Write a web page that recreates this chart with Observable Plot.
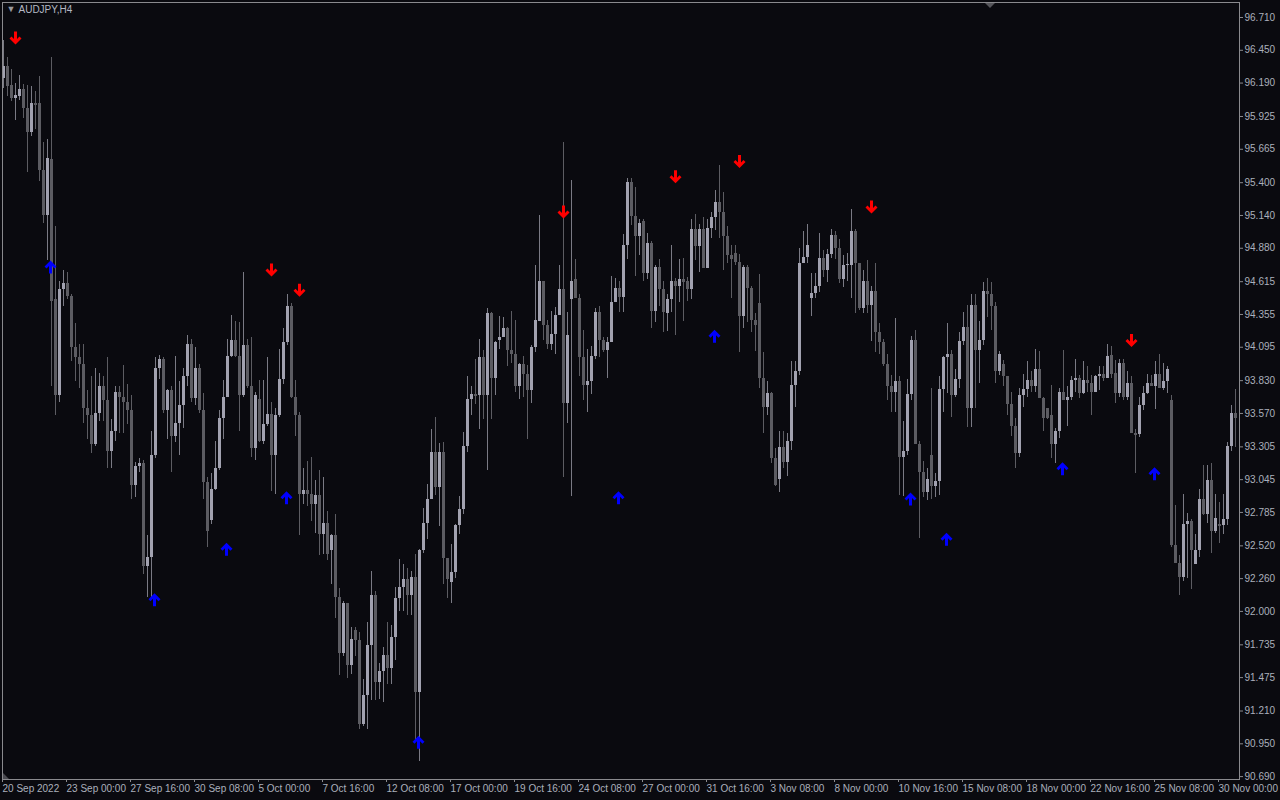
<!DOCTYPE html>
<html><head><meta charset="utf-8">
<script src="https://cdn.jsdelivr.net/npm/d3@7"></script>
<script src="https://cdn.jsdelivr.net/npm/@observablehq/plot@0.6"></script>
<style>
html,body{margin:0;padding:0;background:#0a0a0f;overflow:hidden;}
#chart{position:relative;width:1280px;height:800px;}
#chart svg{display:block;}
.shift{position:absolute;left:985px;top:3px;width:0;height:0;border-left:5px solid transparent;border-right:5px solid transparent;border-top:5px solid #55555a;}
.scroll{position:absolute;left:3px;top:773px;width:0;height:0;border-bottom:6px solid #4a4a50;border-right:6px solid transparent;}
</style></head><body><div id="chart"><div class="shift"></div><div class="scroll"></div></div>
<script>
const title = "AUDJPY,H4";

const open = [
96.23,96.32,96.17,96.07,96.08,96.14,95.99,95.80,96.03,96.03,
95.50,95.14,95.58,94.47,93.71,94.55,94.60,94.50,94.09,94.01,
93.96,93.61,93.55,93.32,93.57,93.78,93.67,93.27,93.43,93.74,
93.70,93.66,93.59,93.00,93.15,93.17,92.36,92.43,93.24,93.93,
94.00,93.59,93.75,93.39,93.49,93.63,93.86,94.12,93.69,93.93,
93.59,93.02,92.72,92.97,93.13,93.53,93.70,94.02,94.15,94.02,
93.71,94.11,93.78,93.29,93.68,93.35,93.48,93.56,93.24,93.55,
93.84,94.13,94.42,93.70,93.55,92.93,92.96,92.93,92.85,92.92,
92.61,92.70,92.48,92.60,92.11,91.67,92.06,91.57,91.85,91.77,
91.10,91.33,91.73,92.13,91.44,91.52,91.65,91.55,91.79,92.10,
92.19,92.25,92.13,92.27,91.36,92.48,92.70,92.89,93.26,92.98,
93.26,92.42,92.23,92.31,92.68,92.81,93.31,93.68,93.72,93.71,
94.01,93.71,94.36,93.85,94.15,94.17,94.24,94.07,94.04,93.78,
93.96,93.88,93.75,94.09,94.30,94.62,94.27,94.12,94.20,94.35,
94.55,93.65,94.47,94.63,94.48,94.01,93.79,93.82,94.02,94.37,
94.15,94.07,94.13,94.45,94.56,94.49,94.90,95.40,95.13,94.97,
95.09,94.68,94.92,94.38,94.73,94.55,94.36,94.47,94.62,94.58,
94.63,94.62,94.55,95.03,94.89,95.03,94.72,95.04,95.12,95.24,
95.16,94.97,94.82,94.84,94.77,94.34,94.73,94.56,94.31,94.44,
93.85,93.62,93.73,93.21,93.05,93.30,93.18,93.35,93.79,93.90,
94.76,94.81,94.48,94.52,94.58,94.80,94.70,94.83,94.98,94.88,
94.63,94.74,94.74,95.01,94.76,94.40,94.62,94.43,94.54,94.21,
94.13,93.96,93.78,93.74,93.82,93.22,93.27,93.72,94.15,93.32,
93.10,92.94,93.24,92.99,93.03,93.76,94.01,94.04,93.71,93.84,
94.14,94.25,93.61,94.43,94.07,94.15,94.54,94.51,94.42,93.90,
93.96,93.86,93.64,93.47,93.25,93.71,93.76,93.83,93.78,93.92,
93.69,93.61,93.55,93.32,93.43,93.74,93.67,93.70,93.83,93.85,
93.73,93.83,93.81,93.74,93.86,93.88,93.85,94.03,93.89,93.73,
93.97,93.70,93.81,93.41,93.40,93.63,93.73,93.81,93.78,93.88,
93.77,93.82,93.67,92.52,92.38,92.27,92.69,92.71,92.37,92.48,
92.89,92.77,93.04,92.63,92.69,92.68,92.73,93.31,93.57
];
const high = [
96.53,96.39,96.30,96.19,96.25,96.18,96.17,96.16,96.12,96.24,
95.72,95.74,96.39,95.05,94.62,94.70,94.69,94.51,94.28,94.12,
94.12,93.75,93.86,93.93,93.89,93.86,94.01,93.52,93.78,93.78,
93.95,93.80,93.71,93.18,93.21,93.20,92.60,93.43,94.01,94.03,
94.01,93.76,93.78,94.02,93.82,93.93,94.19,94.16,94.09,93.96,
93.73,93.06,93.09,93.35,93.59,93.83,94.16,94.35,94.30,94.29,
94.69,94.16,94.17,93.74,93.83,93.83,94.01,93.66,93.61,94.08,
94.24,94.51,94.44,93.83,93.58,93.13,93.19,93.22,93.04,93.12,
93.06,92.79,92.61,92.77,92.18,92.08,92.06,91.87,91.87,91.83,
91.46,91.91,92.32,92.16,91.59,91.71,91.91,91.89,92.19,92.41,
92.37,92.34,92.32,92.45,92.49,92.82,93.01,93.44,93.54,93.33,
93.34,92.42,92.53,92.69,92.91,93.42,93.86,93.78,94.00,94.16,
94.07,94.40,94.37,94.14,94.34,94.33,94.25,94.38,94.31,93.97,
94.02,93.95,94.11,94.74,95.14,94.62,94.31,94.38,94.41,94.74,
95.72,94.37,95.42,94.79,94.51,94.23,94.08,94.10,94.40,94.42,
94.17,94.17,94.66,94.64,94.62,94.99,95.43,95.43,95.36,95.11,
95.11,95.00,94.93,94.74,94.79,94.62,94.51,94.90,94.64,94.79,
94.80,94.65,95.11,95.15,95.07,95.12,95.11,95.16,95.34,95.54,
95.32,95.05,94.90,94.90,94.83,94.74,94.74,94.58,94.36,94.67,
94.05,93.82,93.74,93.29,93.43,93.43,93.41,93.98,93.98,94.88,
95.01,95.07,94.68,94.68,95.00,94.86,94.87,95.03,95.01,94.95,
94.82,94.84,95.19,95.03,94.76,94.70,94.78,94.58,94.76,94.28,
94.16,94.04,93.87,94.32,93.86,93.51,93.84,94.18,94.23,93.35,
93.19,93.13,93.77,93.09,93.86,94.02,94.28,94.07,93.92,94.21,
94.37,94.43,94.51,94.51,94.30,94.61,94.64,94.61,94.45,94.06,
93.99,93.86,93.74,93.53,93.77,93.88,93.98,93.90,94.08,94.06,
93.70,93.61,93.79,93.45,93.77,94.07,93.78,93.86,94.00,93.87,
93.98,93.94,93.87,93.87,93.94,93.94,94.12,94.10,93.99,94.00,
94.00,93.90,93.86,93.44,93.70,93.78,93.88,93.87,93.98,94.04,
93.97,93.94,93.71,92.84,92.44,92.93,92.78,92.73,92.61,92.97,
93.16,93.16,93.17,92.93,92.86,92.93,93.34,93.63,93.76
];
const low = [
96.15,96.08,96.04,95.89,96.05,95.91,95.48,95.77,95.82,95.41,
95.08,94.78,93.78,93.55,93.66,94.42,94.47,93.98,93.82,93.77,
93.49,93.36,93.25,93.31,93.51,93.51,93.13,93.13,93.35,93.41,
93.41,93.48,92.89,92.90,93.10,92.29,92.11,92.11,93.21,93.84,
93.57,93.36,93.10,93.34,93.24,93.45,93.78,93.66,93.63,93.57,
92.89,92.51,92.69,92.96,93.12,93.36,93.70,94.01,94.01,93.43,
93.70,93.77,93.22,93.20,93.34,93.32,93.47,92.95,92.93,93.54,
93.80,94.11,93.69,93.39,92.60,92.85,92.83,92.71,92.62,92.44,
92.45,92.40,92.21,91.94,91.49,91.64,91.47,91.50,91.64,91.06,
91.09,91.06,91.29,91.29,91.30,91.28,91.42,91.42,91.61,92.00,
92.00,91.97,91.97,90.98,90.81,92.46,92.57,92.89,92.92,92.67,
92.21,92.10,92.06,92.26,92.61,92.77,93.26,93.55,93.64,93.44,
93.52,93.12,93.52,93.71,94.08,94.17,93.94,93.97,93.74,93.68,
93.70,93.36,93.65,94.05,94.30,94.15,94.08,94.07,94.04,94.35,
93.06,93.49,92.91,94.48,93.86,93.67,93.58,93.72,94.00,94.01,
94.05,93.85,94.13,94.45,94.37,94.37,94.79,95.06,94.66,94.82,
94.62,94.63,94.24,94.29,94.42,94.21,94.22,94.37,94.19,94.45,
94.30,94.46,94.47,94.78,94.69,94.72,94.72,94.96,95.02,94.96,
94.70,94.76,94.48,94.74,94.05,94.24,94.29,94.21,94.06,93.77,
93.41,93.55,93.17,92.99,92.94,93.13,93.07,93.28,93.62,93.87,
94.76,94.76,94.34,94.48,94.53,94.65,94.61,94.80,94.79,94.60,
94.57,94.62,94.48,94.36,94.39,94.36,94.36,94.14,94.05,94.04,
93.94,93.67,93.58,93.58,92.92,92.91,93.24,93.67,93.32,92.58,
92.90,92.88,92.89,92.90,92.92,93.58,93.73,93.54,93.70,93.77,
94.11,93.46,93.46,93.61,93.81,94.11,94.33,94.23,93.81,93.87,
93.78,93.55,93.39,93.13,93.22,93.62,93.70,93.74,93.74,93.69,
93.43,93.52,93.21,93.17,93.37,93.67,93.47,93.67,93.74,93.69,
93.72,93.74,93.55,93.74,93.75,93.82,93.85,93.85,93.65,93.70,
93.67,93.67,93.41,93.09,93.38,93.59,93.72,93.78,93.60,93.77,
93.75,93.73,92.51,92.38,92.13,92.24,92.26,92.17,92.37,92.43,
92.76,92.70,92.46,92.62,92.54,92.61,92.68,93.27,93.30
];
const close = [
96.32,96.16,96.07,96.09,96.14,95.99,95.80,96.03,96.02,95.50,
95.14,95.59,94.46,93.71,94.55,94.60,94.50,94.09,94.01,93.96,
93.61,93.55,93.32,93.57,93.78,93.67,93.27,93.43,93.74,93.70,
93.66,93.59,93.00,93.15,93.17,92.36,92.43,93.24,93.93,94.00,
93.59,93.75,93.39,93.49,93.63,93.86,94.12,93.69,93.93,93.59,
93.02,92.63,92.97,93.13,93.53,93.70,94.02,94.15,94.02,93.71,
94.11,93.78,93.29,93.71,93.35,93.48,93.56,93.24,93.55,93.84,
94.13,94.42,93.70,93.55,92.93,92.96,92.93,92.85,92.92,92.61,
92.70,92.45,92.60,92.11,91.67,92.06,91.57,91.78,91.77,91.10,
91.33,91.73,92.13,91.44,91.52,91.65,91.55,91.79,92.10,92.19,
92.25,92.13,92.27,91.36,92.48,92.70,92.89,93.26,92.98,93.26,
92.42,92.25,92.31,92.68,92.81,93.31,93.68,93.72,93.71,94.01,
93.71,94.36,93.85,94.13,94.17,94.24,94.07,94.04,93.78,93.96,
93.88,93.75,94.09,94.31,94.62,94.27,94.12,94.20,94.35,94.55,
93.65,94.19,94.62,94.48,94.01,93.79,93.82,94.02,94.37,94.15,
94.07,94.13,94.45,94.56,94.49,94.90,95.40,95.13,94.97,95.08,
94.68,94.92,94.38,94.73,94.55,94.37,94.47,94.62,94.58,94.63,
94.62,94.55,95.03,94.89,95.03,94.72,95.04,95.12,95.24,95.16,
94.97,94.82,94.79,94.77,94.34,94.73,94.56,94.31,94.27,93.85,
93.62,93.73,93.21,93.00,93.30,93.18,93.35,93.79,93.90,94.76,
94.81,94.90,94.52,94.58,94.80,94.70,94.83,94.98,94.88,94.63,
94.74,94.75,95.01,94.76,94.40,94.62,94.43,94.54,94.21,94.13,
93.96,93.78,93.74,93.82,93.22,93.27,93.72,94.15,93.32,93.10,
92.94,93.05,92.99,93.03,93.76,94.01,94.04,93.71,93.84,94.14,
94.25,93.61,94.43,94.07,94.15,94.54,94.51,94.42,93.90,94.04,
93.86,93.64,93.47,93.25,93.71,93.76,93.83,93.78,93.92,93.69,
93.53,93.53,93.32,93.43,93.74,93.67,93.70,93.83,93.85,93.73,
93.83,93.81,93.74,93.86,93.88,93.85,94.02,93.88,93.73,93.97,
93.70,93.81,93.41,93.40,93.63,93.73,93.81,93.78,93.88,93.77,
93.82,93.92,92.52,92.38,92.27,92.69,92.71,92.48,92.48,92.89,
92.77,93.04,92.63,92.74,92.68,92.73,93.31,93.57,93.53
];

// signal arrows (bar index, price level)
const sellBars  = [3, 67, 74, 140, 168, 184, 217, 282];
const sellPrice = [96.54, 94.70, 94.54, 95.16, 95.44, 95.56, 95.20, 94.14];
const buyBars   = [12, 38, 56, 71, 104, 154, 178, 227, 236, 265, 288];
const buyPrice  = [94.74, 92.10, 92.50, 92.91, 90.97, 92.91, 94.19, 92.90, 92.58, 93.14, 93.10];

// axis ticks
const yTicks = [96.710, 96.450, 96.190, 95.925, 95.665, 95.400, 95.140, 94.880, 94.615, 94.355, 94.095, 93.830,
                93.570, 93.305, 93.045, 92.785, 92.520, 92.260, 92.000, 91.735, 91.475, 91.210, 90.950, 90.690];
const xTickBars = [0,16,32,48,64,80,96,112,128,144,160,176,192,208,224,240,256,272,288,304];
const xLabels = ["20 Sep 2022","23 Sep 00:00","27 Sep 16:00","30 Sep 08:00","5 Oct 00:00","7 Oct 16:00",
  "12 Oct 08:00","17 Oct 00:00","19 Oct 16:00","24 Oct 08:00","27 Oct 00:00","31 Oct 16:00","3 Nov 08:00",
  "8 Nov 00:00","10 Nov 16:00","15 Nov 08:00","18 Nov 00:00","22 Nov 16:00","25 Nov 08:00","30 Nov 00:00"];

// build tables
const bars = open.map((o, i) => ({i, open: o, high: high[i], low: low[i], close: close[i]}));
const sells = sellBars.map((b, k) => ({i: b, price: sellPrice[k]}));
const buys = buyBars.map((b, k) => ({i: b, price: buyPrice[k]}));
const labelOf = new Map(xTickBars.map((b, k) => [b, xLabels[k]]));

const BG = "#0a0a0f";
const bullBody = "#a2a2b0", bearBody = "#5c5c62";
const wickUp = "#7a7a84", wickDown = "#5c5c62";
const axisStroke = "#8a8a8e", textCol = "#aab0bc";
const isUp = d => d.close >= d.open;

function arrow(dir) {
  const pts = [[-1.5,-7.5],[1.5,-7.5],[1.5,0],[4,-2.5],[6,-0.5],[0,5.5],[-6,-0.5],[-4,-2.5],[-1.5,0]];
  return {draw(ctx) {
    pts.forEach(([x, y], k) => k ? ctx.lineTo(x, dir * y) : ctx.moveTo(x, dir * y));
    ctx.closePath();
  }};
}

const chart = Plot.plot({
  width: 1280, height: 800,
  marginLeft: 2, marginRight: 41, marginTop: 2, marginBottom: 21,
  style: {background: BG, color: textCol, fontFamily: "'Liberation Sans', Arial, sans-serif", fontSize: "10px"},
  x: {type: "linear", domain: [-0.25, 309]},
  y: {type: "linear", domain: [90.667, 96.829]},
  color: {type: "identity"},
  marks: [
    Plot.ruleX(bars, {x: "i", y1: "low", y2: "high", stroke: d => isUp(d) ? wickUp : wickDown, shapeRendering: "crispEdges"}),
    Plot.rect(bars, {x1: d => d.i - 0.375, x2: d => d.i + 0.375, y1: "open", y2: "close",
      fill: d => isUp(d) ? bullBody : bearBody, shapeRendering: "crispEdges"}),
    Plot.ruleY(bars.filter(d => Math.abs(d.close - d.open) < 0.012), {y: "close",
      x1: d => d.i - 0.375, x2: d => d.i + 0.375, stroke: d => isUp(d) ? bullBody : bearBody, shapeRendering: "crispEdges"}),
    Plot.dot(sells, {x: "i", y: "price", symbol: arrow(1), r: 7, fill: "#ff0000"}),
    Plot.dot(buys, {x: "i", y: "price", symbol: arrow(-1), r: 7, fill: "#0000ff", dx: -1}),
    Plot.frame({stroke: axisStroke}),
    Plot.axisY(yTicks, {anchor: "right", label: null, tickSize: 3, tickPadding: 2,
      tickFormat: d => d.toFixed(3), stroke: axisStroke, fill: textCol}),
    Plot.axisX(xTickBars, {anchor: "bottom", label: null, tickSize: 3, tickPadding: 2,
      tickFormat: b => labelOf.get(b), textAnchor: "start", dx: -1, stroke: axisStroke, fill: textCol}),
    Plot.text([title], {frameAnchor: "top-left", dx: 16, dy: 3, lineAnchor: "top", textAnchor: "start", fill: "#b4b8c4"}),
    Plot.text(["▼"], {frameAnchor: "top-left", dx: 4, dy: 3, lineAnchor: "top", textAnchor: "start", fontSize: 9, fill: "#9a9a9e"})
  ]
});
document.getElementById("chart").prepend(chart);
</script></body></html>
